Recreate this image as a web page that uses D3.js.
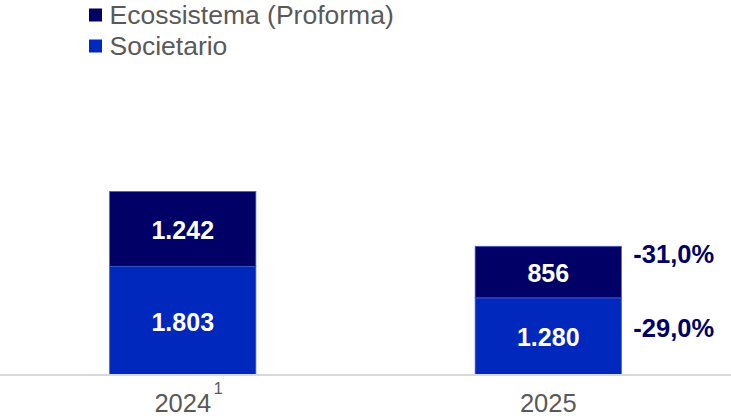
<!DOCTYPE html>
<html>
<head>
<meta charset="utf-8">
<script src="https://cdn.jsdelivr.net/npm/d3@7"></script>
<style>
  html, body { margin: 0; padding: 0; background: #fff; }
  svg { display: block; font-family: Arial, "Liberation Sans", sans-serif; }
</style>
</head>
<body>
<svg id="chart" width="731" height="416"></svg>
<script>
// Years on the x axis and their footnote markers
const years = ["2024", "2025"];
const yearNotes = ["1", ""];

// Stacked series (bottom first)
const seriesNames = ["Societario", "Ecossistema (Proforma)"];
const societario = [1803, 1280];
const ecossistema = [1242, 856];

// Reported year-over-year change per series (same order as seriesNames)
const changePct = [-0.290, -0.310];

const colors = ["#0028BC", "#000066"];

const W = 731, H = 416;
const svg = d3.select("#chart");

// Italian-style number formatting: "." for thousands, "," for decimals
const locale = d3.formatLocale({ decimal: ",", thousands: ".", grouping: [3], currency: ["", "€"], minus: "-" });
const fmtInt = locale.format(",d");
const fmtPct = locale.format(".1%");

const x = d3.scaleBand().domain(years).range([0, W]).paddingInner(0.6).paddingOuter(0.3);
const y = d3.scaleLinear().domain([0, 3200]).range([375, 182.2]);

const rows = years.map((yr, i) => ({ year: yr, Societario: societario[i], "Ecossistema (Proforma)": ecossistema[i] }));
const stacked = d3.stack().keys(seriesNames)(rows);

// Bars
const layer = svg.selectAll("g.layer").data(stacked).join("g")
  .attr("class", "layer")
  .attr("fill", (d, i) => colors[i]);

layer.selectAll("rect").data(d => d).join("rect")
  .attr("x", d => x(d.data.year))
  .attr("y", d => y(d[1]))
  .attr("width", x.bandwidth())
  .attr("height", d => y(d[0]) - y(d[1]))
  .attr("stroke", "#3d5ccc")
  .attr("stroke-width", 0.8);

// Value labels inside segments
layer.selectAll("text").data(d => d).join("text")
  .attr("x", d => x(d.data.year) + x.bandwidth() / 2)
  .attr("y", d => (y(d[0]) + y(d[1])) / 2 + 10)
  .attr("text-anchor", "middle")
  .attr("fill", "#fff")
  .attr("font-weight", "bold")
  .attr("font-size", 25)
  .text(d => fmtInt(d[1] - d[0]));

// Axis baseline
const xAxis = d3.axisBottom(x).tickSize(0).tickPadding(0).tickFormat("");
const axisG = svg.append("g").attr("transform", "translate(0,375)").call(xAxis);
axisG.select(".domain").attr("d", `M0,0H${W}`).attr("stroke", "#d9d9d9").attr("stroke-width", 2);

// Year labels with footnote superscript
years.forEach((yr, i) => {
  const cx = x(yr) + x.bandwidth() / 2;
  svg.append("text")
    .attr("x", cx).attr("y", 412)
    .attr("text-anchor", "middle")
    .attr("fill", "#595959")
    .attr("font-size", 25.5)
    .text(yr);
  if (yearNotes[i]) {
    svg.append("text")
      .attr("x", cx + 31).attr("y", 394)
      .attr("fill", "#595959")
      .attr("font-size", 16)
      .text(yearNotes[i]);
  }
});

// Year-over-year change labels to the right of the last bar
const last = years.length - 1;
const changeNudge = [-8, -18];
stacked.forEach((s, k) => {
  const seg = s[last];
  svg.append("text")
    .attr("x", x(years[last]) + x.bandwidth() + 12)
    .attr("y", (y(seg[0]) + y(seg[1])) / 2 + 9 + changeNudge[k])
    .attr("fill", "#000066")
    .attr("font-weight", "bold")
    .attr("font-size", 25.5)
    .text(fmtPct(changePct[k]));
});

// Legend (top series listed first)
const legendItems = seriesNames.map((n, i) => ({ name: n, color: colors[i] })).reverse();
const legend = svg.append("g").selectAll("g").data(legendItems).join("g")
  .attr("transform", (d, i) => `translate(89,${i * 31})`);
legend.append("rect")
  .attr("x", 0).attr("y", 8.5).attr("width", 13).attr("height", 13)
  .attr("fill", d => d.color);
legend.append("text")
  .attr("x", 20.5).attr("y", 24)
  .attr("fill", "#595959")
  .attr("font-size", 26.5)
  .text(d => d.name);
</script>
</body>
</html>
